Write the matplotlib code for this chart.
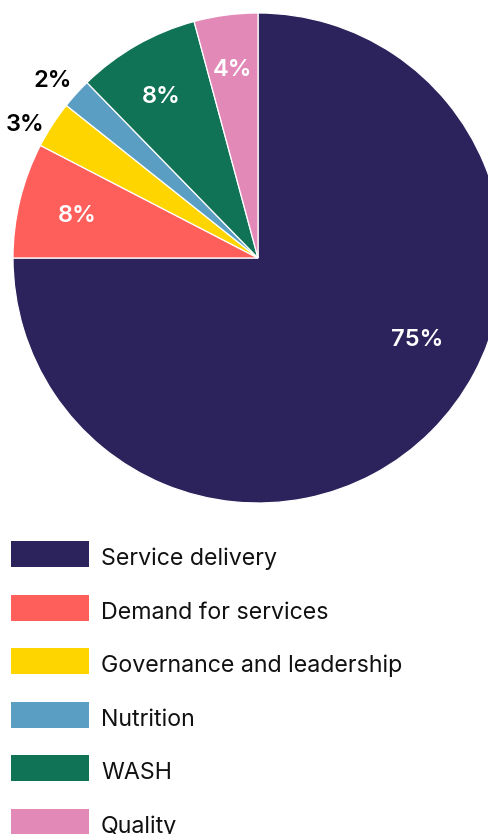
import numpy as np
import matplotlib
matplotlib.use("Agg")
import matplotlib.pyplot as plt
from matplotlib.patches import Rectangle

categories = ["Service delivery", "Demand for services", "Governance and leadership",
              "Nutrition", "WASH", "Quality"]
values = [75.0, 7.6, 3.1, 2.0, 8.1, 4.2]
pct_labels = ["75%", "8%", "3%", "2%", "8%", "4%"]
colors = ["#2C235C", "#FF5F5B", "#FFD500", "#5B9EC4", "#117356", "#E389B8"]

W, H = 489, 834
plt.rcParams['font.family'] = ['Inter', 'DejaVu Sans']
fig = plt.figure(figsize=(W / 100, H / 100), dpi=100)
ax = fig.add_axes([0, 0, 1, 1])

cx, cy, R = 258, H - 258, 245
wedges, _ = ax.pie(values, colors=colors, startangle=90, counterclock=False,
                   center=(cx, cy), radius=R,
                   wedgeprops=dict(edgecolor="white", linewidth=0.9))
ax.set_xlim(0, W)
ax.set_ylim(0, H)
ax.set_aspect("equal")
ax.axis("off")

# label placement (angle in degrees, radius fraction) -- layout only
lab_ang = [-26.35, 166.15, 149.7, 138.9, 120.6, 97.5]
lab_r = [0.7265, 0.759, 1.099, 1.114, 0.778, 0.784]
txtcol = ["white", "white", "black", "black", "white", "white"]
pct_fs = 17.0
cap = 0.727 * pct_fs * 100 / 72
for i, w in enumerate(wedges):
    r = lab_r[i] * R
    x = cx + r * np.cos(np.radians(lab_ang[i]))
    y = cy + r * np.sin(np.radians(lab_ang[i]))
    ax.text(x, y - cap / 2, pct_labels[i], ha="center", va="baseline", color=txtcol[i],
            fontsize=pct_fs, fontweight="semibold")

# legend
pitch = 53.6
for i, (cat, col) in enumerate(zip(categories, colors)):
    top = 541 + i * pitch
    ax.add_patch(Rectangle((11, H - top - 26), 78, 26, facecolor=col, edgecolor="none"))
    ax.text(101, H - (top + 24), cat, ha="left", va="baseline", fontsize=16.7,
            color="#111111")

fig.savefig("out.png", dpi=100)
